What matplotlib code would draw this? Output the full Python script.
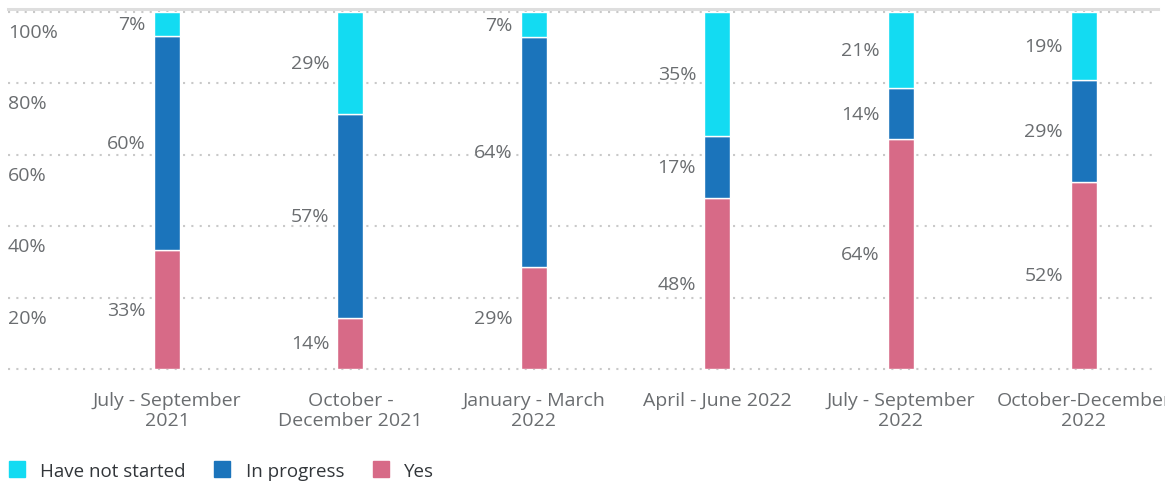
import matplotlib
matplotlib.use("Agg")
import matplotlib.pyplot as plt
from matplotlib.lines import Line2D
import numpy as np

plt.rcParams["font.family"] = ["Open Sans", "DejaVu Sans"]

# Data (percent of respondents)
quarters = [
    "July - September\n2021",
    "October -\nDecember 2021",
    "January - March\n2022",
    "April - June 2022",
    "July - September\n2022",
    "October-December\n2022",
]
yes = [33.3, 14.3, 28.6, 47.8, 64.3, 52.4]
in_progress = [60.0, 57.1, 64.3, 17.4, 14.3, 28.6]
not_started = [6.7, 28.6, 7.1, 34.8, 21.4, 19.0]

series_names = ["Have not started", "In progress", "Yes"]
colors = {"Yes": "#d76a87", "In progress": "#1b74bb", "Have not started": "#13dbf2"}
y_ticks = [20, 40, 60, 80, 100]

TEXT_GRAY = "#6a6d70"
FS = 14
W, H, DPI = 1165, 485, 100

fig = plt.figure(figsize=(W / DPI, H / DPI), dpi=DPI)
ax = fig.add_axes([8 / W, (H - 370) / H, 1150 / W, 357 / H])

x = np.arange(len(quarters))
bar_w = 0.142
ax.set_xlim(-0.867, 5.404)
ax.set_ylim(0, 100)

# gridlines + top rule
for v in [0] + y_ticks:
    ax.axhline(v, color="#c9c9c9", lw=1.5, ls=(0, (1, 3)), zorder=0, clip_on=False)
ax.axhline(100.9, color="#dedede", lw=2.2, zorder=0, clip_on=False)

# stacked bars
stack = [("Yes", yes), ("In progress", in_progress), ("Have not started", not_started)]
bottom = np.zeros(len(quarters))
for name, vals in stack:
    vals = np.array(vals)
    ax.bar(x, vals, bar_w, bottom=bottom, color=colors[name],
           edgecolor="white", linewidth=1, zorder=2)
    for xi, b, v in zip(x, bottom, vals):
        ax.annotate(f"{v:.0f}%", xy=(xi - bar_w / 2, b + v / 2),
                    xytext=(-8, 0), textcoords="offset pixels",
                    ha="right", va="center", fontsize=FS, color=TEXT_GRAY)
    bottom += vals

# y labels sit just below each gridline
for v in y_ticks:
    ax.annotate(f"{v}%", xy=(0, v), xycoords=("axes fraction", "data"),
                xytext=(0, -20), textcoords="offset pixels",
                ha="left", va="center", fontsize=FS, color=TEXT_GRAY)

ax.set_yticks([])
ax.set_xticks(x, labels=quarters)
ax.tick_params(axis="x", length=0, pad=15.5, labelsize=FS, labelcolor=TEXT_GRAY)
for lbl in ax.get_xticklabels():
    lbl.set_linespacing(1.2)
for s in ax.spines.values():
    s.set_visible(False)

handles = [Line2D([], [], marker="s", ls="", ms=11, color=colors[n]) for n in series_names]
fig.legend(handles, series_names, loc="center left", bbox_to_anchor=(0.0065, (H - 472) / H),
           ncol=3, frameon=False, fontsize=13.5, labelcolor="#32363a",
           handlelength=1.0, handletextpad=0.75, columnspacing=1.45, borderpad=0.0,
           borderaxespad=0.0)

fig.savefig("out.png", dpi=DPI)
